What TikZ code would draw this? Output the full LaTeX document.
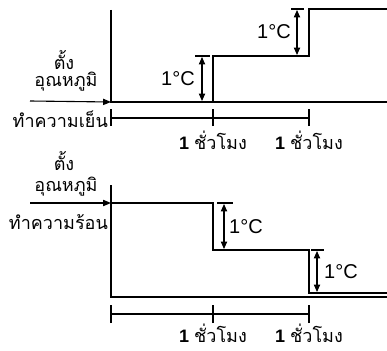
\documentclass[tikz,border=0pt]{standalone}
\usepackage{fontspec}
\setmainfont{Liberation Sans}
\newfontfamily\thaifont[Script=Thai]{Loma}
\usetikzlibrary{arrows.meta, positioning}

\begin{document}
\begin{tikzpicture}[x=1pt, y=-1pt,
    axis/.style={line width=1.1pt},
    sig/.style={line width=1.3pt},
    dim/.style={{Triangle[length=2.6mm, width=2.2mm]}-{Triangle[length=2.6mm, width=2.2mm]}, line width=1.1pt},
    setarr/.style={-{Triangle[length=2.8mm, width=2.2mm]}, line width=1.1pt},
    thlbl/.style={font=\thaifont\fontsize{18}{18}\selectfont, inner sep=0pt},
    deglbl/.style={font=\fontsize{20}{20}\selectfont, inner sep=0pt},
    hrlbl/.style={font=\fontsize{18}{18}\selectfont, inner sep=0pt, text depth=0pt, anchor=base}
]
\useasboundingbox (0,0) rectangle (387,350);

\coordinate (ytop) at (111,10);
\coordinate (yorg) at (111,102);
\coordinate (xend) at (387,102);
\coordinate (up1) at (213,102);
\coordinate (up2) at (213,56);
\coordinate (up3) at (309,56);
\coordinate (up4) at (309,9);
\coordinate (up5) at (387,9);
\draw[axis] (ytop) -- (yorg) -- (xend);
\draw[sig] (up1) -- (up2) -- (up3) -- (up4) -- (up5);

\coordinate (dc1a) at (195,56);
\coordinate (dc1b) at (210,56);
\coordinate (dc1t) at (202,57);
\coordinate (dc1d) at (202,101);
\draw[axis] (dc1a) -- (dc1b);
\draw[dim] (dc1t) -- (dc1d);
\node[deglbl] (degc1) at (178,79) {1°C};

\coordinate (dc2a) at (291,9);
\coordinate (dc2b) at (304,9);
\coordinate (dc2t) at (297,10);
\coordinate (dc2d) at (297,55);
\draw[axis] (dc2a) -- (dc2b);
\draw[dim] (dc2t) -- (dc2d);
\node[deglbl] (degc2) at (274,32) {1°C};

\node[thlbl] (settop) at (64,60) {ตั้ง};
\node[thlbl] (temptop) at (66,82) {อุณหภูมิ};
\coordinate (arrtop) at (30,101);
\draw[setarr] (arrtop) -- (yorg);
\node[thlbl, anchor=east] (cool) at (108,119) {ทำความเย็น};

\coordinate (tc0) at (111,118);
\coordinate (tc1) at (213,118);
\coordinate (tc2) at (309,118);
\draw[axis] (tc0) -- (tc2);
\foreach \t in {tc0, tc1, tc2}
  \draw[axis] ([yshift=-8pt]\t) -- ([yshift=9pt]\t);
\node[hrlbl] (hrc1) at ([yshift=-31pt]tc1) {\textbf{1} {\thaifont ชั่วโมง}};
\node[hrlbl] (hrc2) at ([yshift=-31pt]tc2) {\textbf{1} {\thaifont ชั่วโมง}};

\node[thlbl] (setbot) at (64,161) {ตั้ง};
\node[thlbl] (tempbot) at (66,187) {อุณหภูมิ};
\coordinate (ytopb) at (111,185);
\coordinate (yorgb) at (111,297);
\coordinate (xendb) at (387,297);
\draw[axis] (ytopb) -- (yorgb) -- (xendb);
\coordinate (dn0) at (111,203);
\coordinate (dn1) at (213,203);
\coordinate (dn2) at (213,250);
\coordinate (dn3) at (309,250);
\coordinate (dn4) at (309,293);
\coordinate (dn5) at (387,293);
\draw[sig] (dn0) -- (dn1) -- (dn2) -- (dn3) -- (dn4) -- (dn5);
\coordinate (arrbot) at (30,203);
\draw[setarr] (arrbot) -- (dn0);
\node[thlbl, anchor=east] (heat) at (108,222) {ทำความร้อน};

\coordinate (dh1a) at (217,203);
\coordinate (dh1b) at (233,203);
\coordinate (dh1t) at (224,204);
\coordinate (dh1d) at (224,249);
\draw[axis] (dh1a) -- (dh1b);
\draw[dim] (dh1t) -- (dh1d);
\node[deglbl] (degh1) at (246,227) {1°C};

\coordinate (dh2a) at (311,250);
\coordinate (dh2b) at (324,250);
\coordinate (dh2t) at (317,251);
\coordinate (dh2d) at (317,292);
\draw[axis] (dh2a) -- (dh2b);
\draw[dim] (dh2t) -- (dh2d);
\node[deglbl] (degh2) at (341,272) {1°C};

\coordinate (th0) at (111,314);
\coordinate (th1) at (213,314);
\coordinate (th2) at (309,314);
\draw[axis] (th0) -- (th2);
\foreach \t in {th0, th1, th2}
  \draw[axis] ([yshift=-9pt]\t) -- ([yshift=9pt]\t);
\node[hrlbl] (hrh1) at ([yshift=-28pt]th1) {\textbf{1} {\thaifont ชั่วโมง}};
\node[hrlbl] (hrh2) at ([yshift=-28pt]th2) {\textbf{1} {\thaifont ชั่วโมง}};
\end{tikzpicture}
\end{document}
